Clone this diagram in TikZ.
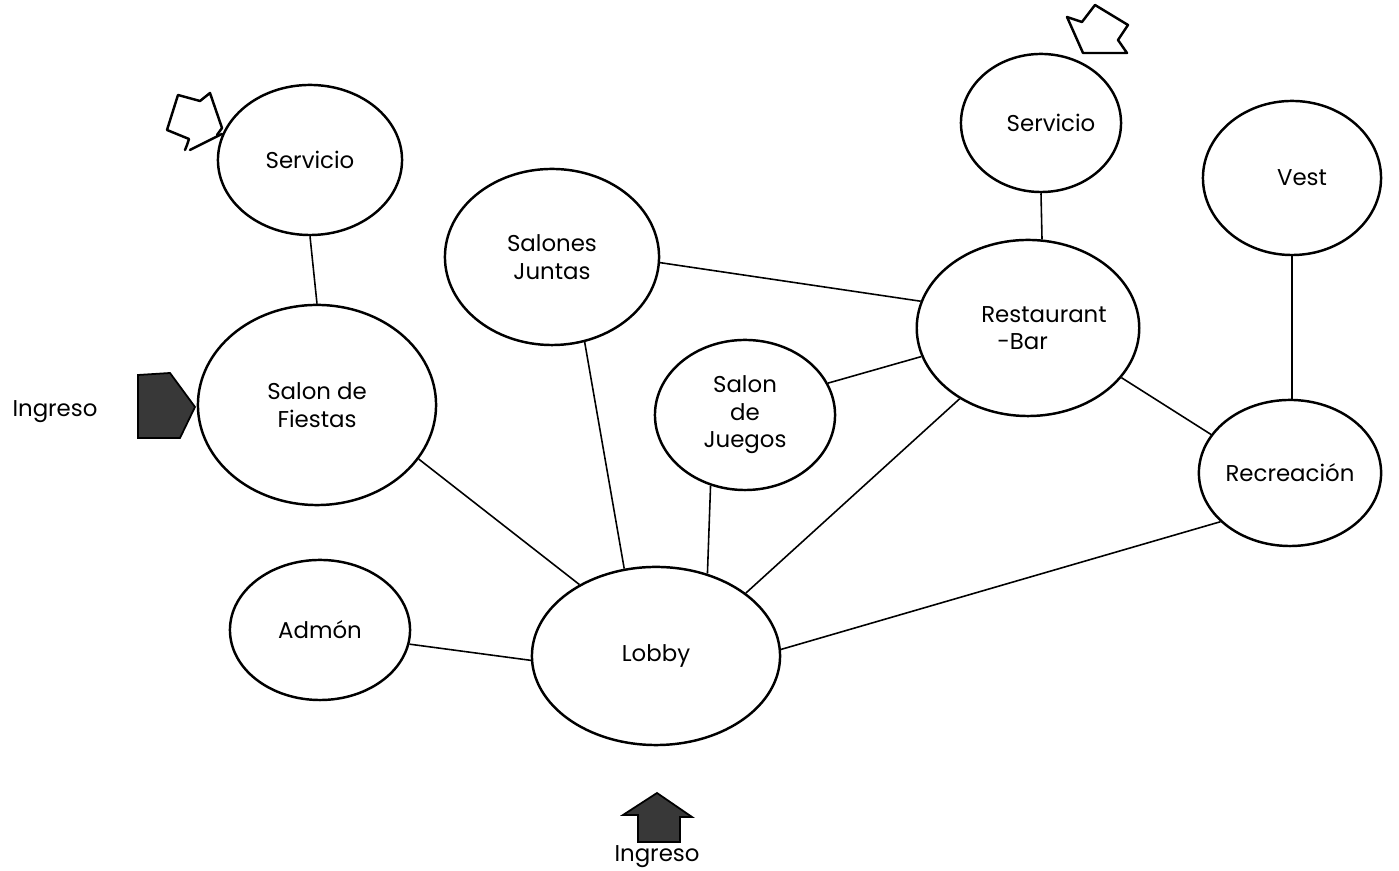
\documentclass[tikz,border=0pt]{standalone}
\usepackage{fontspec}
\setmainfont{Poppins}
\usetikzlibrary{shapes.geometric}

\tikzset{
  room/.style={ellipse, draw, line width=0.7pt, inner sep=0pt, font=\fontsize{6.5}{7.8}\selectfont, align=center},
  link/.style={line width=0.45pt},
  entry/.style={fill=black!78, draw=black, line width=0.5pt},
  hollow/.style={line width=0.7pt, line join=round, line cap=round}
}

\begin{document}
\begin{tikzpicture}[x=0.01cm, y=-0.01cm]
      \useasboundingbox (0, 0) rectangle (1399, 871);
      \node[room, minimum width=1.84cm, minimum height=1.50cm] (servL) at (310, 160) {Servicio};
      \node[room, minimum width=2.38cm, minimum height=2.00cm] (fiestas) at (317, 405) {Salon de\\Fiestas};
      \node[room, minimum width=2.14cm, minimum height=1.76cm] (juntas) at (552, 257) {Salones\\Juntas};
      \node[room, minimum width=1.80cm, minimum height=1.50cm] (juegos) at (745, 415) {Salon\\de\\Juegos};
      \node[room, minimum width=1.60cm, minimum height=1.38cm] (servR) at (1041, 123) {\hspace*{0.2cm}Servicio};
      \node[room, minimum width=1.78cm, minimum height=1.54cm] (vest) at (1292, 178) {\hspace*{0.2cm}Vest};
      \node[room, minimum width=2.18cm, minimum height=1.76cm, align=left] (rest) at (1028, 328) {\hspace*{0.32cm}Restaurant\\\hspace*{0.32cm}\hspace*{0.16cm}-Bar};
      \node[room, minimum width=1.62cm, minimum height=1.46cm] (recre) at (1290, 473) {Recreación};
      \node[room, minimum width=1.80cm, minimum height=1.40cm] (admon) at (320, 630) {Admón};
      \node[room, minimum width=2.48cm, minimum height=1.78cm] (lobby) at (656, 656) {Lobby};

      % connections
      \draw[link] (servL.south) -- (fiestas.north);
      \draw[link] (fiestas.-28) -- (lobby.137);
      \draw[link] (juntas.-69) -- (lobby.110);
      \draw[link] (juntas.-3) -- (rest.166);
      \draw[link] (juegos.-116) -- (lobby.58);
      \draw[link] (juegos.21) -- (rest.-165);
      \draw[link] (servR.south) -- (rest.81);
      \draw[link] (rest.-134) -- (lobby.35);
      \draw[link] (rest.-28) -- (recre.154);
      \draw[link] (vest.south) -- (vest.south |- recre.north);
      \draw[link] (recre.-145) -- (lobby.3);
      \draw[link] (admon.-9) -- (lobby.182);

      % service entries
      \draw[hollow] (185, 150) -- (187, 145) -- (189, 139) -- (167, 130) -- (178, 95)
        -- (200, 101) -- (210, 93) -- (222, 128) -- (217, 135);
      \draw[hollow] (190, 150) -- (222, 134);
      \draw[hollow] (1083, 53) -- (1067, 17) -- (1082, 22) -- (1095, 5) -- (1128, 25)
        -- (1118, 40) -- (1127, 53) -- cycle;

      % main entries
      \draw[entry] (138, 375) -- (170, 373) -- (195, 407) -- (180, 438) -- (138, 438) -- cycle;
      \node[font=\fontsize{6.5}{7.8}\selectfont] (ingL) at (55, 412) {Ingreso};
      \draw[entry] (638, 842) -- (638, 815) -- (623, 815) -- (657, 793) -- (692, 817)
        -- (680, 817) -- (680, 842) -- cycle;
      \node[font=\fontsize{6.5}{7.8}\selectfont] (ingB) at (657, 857) {Ingreso};
\end{tikzpicture}
\end{document}
